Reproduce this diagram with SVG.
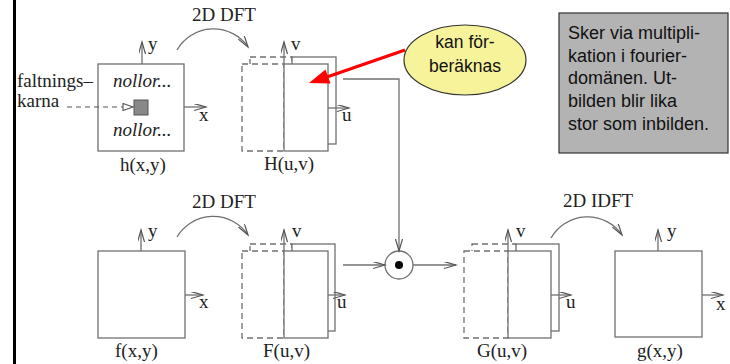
<svg xmlns="http://www.w3.org/2000/svg" width="730" height="364" viewBox="0 0 730 364">
<style>
.ln{stroke:#707070;stroke-width:1.3;fill:none}
.box{stroke:#707070;stroke-width:1.3;fill:#fff}
.dash{stroke:#707070;stroke-width:1.3;fill:#fff;stroke-dasharray:6 4}
.t{font-family:"Liberation Serif","Times New Roman",serif;font-size:19px;fill:#222}
.ti{font-family:"Liberation Serif","Times New Roman",serif;font-size:19px;font-style:italic;fill:#222}
.s{font-family:"Liberation Sans",Arial,sans-serif;font-size:17.5px;fill:#111}
</style>
<defs>
<marker id="ah" markerUnits="userSpaceOnUse" markerWidth="14" markerHeight="10" refX="12" refY="3.5" orient="auto">
<path d="M0,0 L12,3.5 L0,7" fill="none" stroke="#555" stroke-width="1.2"/>
</marker>
<marker id="tri" markerUnits="userSpaceOnUse" markerWidth="14" markerHeight="10" refX="11" refY="4" orient="auto">
<path d="M1,0.5 L11,4 L1,7.5 Z" fill="#fff" stroke="#555" stroke-width="1.1"/>
</marker>
</defs>
<rect x="0" y="0" width="730" height="364" fill="#fff"/>
<rect x="13" y="0" width="3" height="364" fill="#000"/>

<g id="h">
<rect class="box" x="98" y="64" width="86" height="87"/>
<line class="ln" x1="142" y1="64" x2="142" y2="42" marker-end="url(#ah)"/>
<line class="ln" x1="184" y1="107" x2="206" y2="107" marker-end="url(#ah)"/>
<text class="t" x="148" y="50">y</text>
<text class="t" x="199" y="121">x</text>
<text class="ti" x="113" y="87">nollor...</text>
<text class="ti" x="113" y="136">nollor...</text>
<rect x="134" y="100" width="14" height="15" fill="#888" stroke="#555" stroke-width="1"/>
<text class="t" x="120" y="171">h(x,y)</text>
</g>

<g id="kernel-label">
<text class="t" x="17" y="87">faltnings–</text>
<text class="t" x="17" y="107">karna</text>
<line x1="67" y1="107" x2="133" y2="107" stroke="#555" stroke-width="1.2" stroke-dasharray="5 4" marker-end="url(#tri)"/>
</g>

<g id="dft1">
<text class="t" x="192" y="21">2D DFT</text>
<path class="ln" d="M177,50 A42,42 0 0 1 248,47" marker-end="url(#ah)"/>
</g>

<g id="H">
<rect class="dash" x="250" y="57" width="42" height="87"/>
<rect class="box" x="292" y="57" width="44" height="87"/>
<rect class="dash" x="242" y="64" width="42" height="87"/>
<rect class="box" x="284" y="64" width="44" height="87"/>
<line class="ln" x1="284" y1="64" x2="284" y2="42" marker-end="url(#ah)"/>
<line class="ln" x1="328" y1="108" x2="349" y2="108" marker-end="url(#ah)"/>
<text class="t" x="291" y="50">v</text>
<text class="t" x="342" y="121">u</text>
<text class="t" x="264" y="170">H(u,v)</text>
</g>

<g id="f">
<rect class="box" x="98" y="251" width="87" height="87"/>
<line class="ln" x1="141" y1="251" x2="141" y2="230" marker-end="url(#ah)"/>
<line class="ln" x1="185" y1="295" x2="203" y2="295" marker-end="url(#ah)"/>
<text class="t" x="148" y="237">y</text>
<text class="t" x="199" y="308">x</text>
<text class="t" x="115" y="357">f(x,y)</text>
</g>

<g id="dft2">
<text class="t" x="192" y="208">2D DFT</text>
<path class="ln" d="M177,237 A42,42 0 0 1 248,235" marker-end="url(#ah)"/>
</g>

<g id="F">
<rect class="dash" x="250" y="244" width="42" height="87"/>
<rect class="box" x="292" y="244" width="43" height="87"/>
<rect class="dash" x="242" y="251" width="42" height="87"/>
<rect class="box" x="284" y="251" width="44" height="87"/>
<line class="ln" x1="284" y1="251" x2="284" y2="230" marker-end="url(#ah)"/>
<line class="ln" x1="328" y1="295" x2="345" y2="295" marker-end="url(#ah)"/>
<text class="t" x="292" y="237">v</text>
<text class="t" x="337" y="308">u</text>
<text class="t" x="263" y="357">F(u,v)</text>
</g>

<g id="mult">
<circle cx="399" cy="265" r="14" fill="#fff" stroke="#707070" stroke-width="1.3"/>
<circle cx="399" cy="265" r="4" fill="#000"/>
</g>

<g id="G">
<rect class="dash" x="472" y="244" width="44" height="87"/>
<rect class="box" x="516" y="244" width="43" height="87"/>
<rect class="dash" x="464" y="251" width="44" height="87"/>
<rect class="box" x="508" y="251" width="43" height="87"/>
<line class="ln" x1="508" y1="251" x2="508" y2="230" marker-end="url(#ah)"/>
<line class="ln" x1="551" y1="295" x2="571" y2="295" marker-end="url(#ah)"/>
<text class="t" x="516" y="237">v</text>
<text class="t" x="566" y="308">u</text>
<text class="t" x="477" y="357">G(u,v)</text>
</g>

<g id="idft">
<text class="t" x="563" y="207">2D IDFT</text>
<path class="ln" d="M551,238 A42,42 0 0 1 622,235" marker-end="url(#ah)"/>
</g>

<g id="g">
<rect class="box" x="615" y="251" width="87" height="86"/>
<line class="ln" x1="658" y1="251" x2="658" y2="230" marker-end="url(#ah)"/>
<line class="ln" x1="702" y1="295" x2="723" y2="295" marker-end="url(#ah)"/>
<text class="t" x="667" y="237">y</text>
<text class="t" x="716" y="310">x</text>
<text class="t" x="637" y="357">g(x,y)</text>
</g>

<g id="connectors">
<polyline class="ln" points="343,79 399,79 399,251" marker-end="url(#ah)"/>
<line class="ln" x1="343" y1="265" x2="385" y2="265" marker-end="url(#ah)"/>
<line class="ln" x1="413" y1="265" x2="456" y2="265" marker-end="url(#ah)"/>
</g>

<g id="callout">
<ellipse cx="465" cy="60" rx="61" ry="35" fill="#f7f39a" stroke="#333" stroke-width="1.2"/>
<text class="s" x="465" y="48" text-anchor="middle">kan för-</text>
<text class="s" x="465" y="72" text-anchor="middle">beräknas</text>
<line x1="405" y1="50" x2="327" y2="77" stroke="#f00" stroke-width="3"/>
<polygon points="309,83 330.5,83.5 325.5,69.5" fill="#f00"/>
</g>

<g id="note">
<rect x="559" y="13" width="169" height="140" fill="#b3b3b3" stroke="#333" stroke-width="1.2"/>
<text class="s" x="568" y="39" style="font-size:18px">Sker via multipli-</text>
<text class="s" x="568" y="62" style="font-size:18px">kation i fourier-</text>
<text class="s" x="568" y="84" style="font-size:18px">domänen. Ut-</text>
<text class="s" x="568" y="107" style="font-size:18px">bilden blir lika</text>
<text class="s" x="568" y="130" style="font-size:18px">stor som inbilden.</text>
</g>
</svg>
